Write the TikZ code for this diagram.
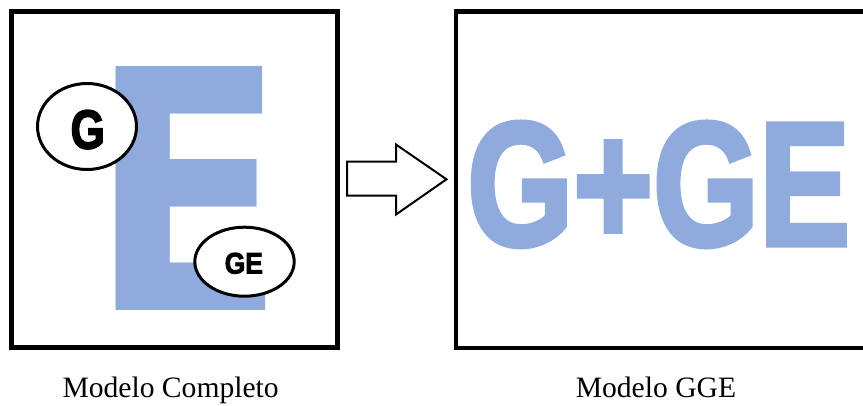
\documentclass[tikz,border=0pt]{standalone}
\usepackage{fontspec}
\setmainfont{Liberation Serif}
\newfontfamily\sansheavy{Liberation Sans}[BoldFeatures={FakeBold=3}]
\newfontfamily\blockfont{DejaVu Sans}
\usetikzlibrary{shapes.geometric}
\definecolor{letterblue}{HTML}{8FAADC}

\begin{document}
\begin{tikzpicture}[x=1pt,y=-1pt,
  frame/.style={draw=black, line width=4.5pt, inner sep=0pt},
  oval/.style={ellipse, draw=black, line width=3pt, fill=white, inner sep=0pt},
  ovaltext/.style={inner sep=0pt, font=\sansheavy\bfseries},
  bigtext/.style={inner sep=0pt, anchor=base west, text=letterblue},
  caption/.style={inner sep=0pt, anchor=base west, font=\fontsize{29.6}{32}\selectfont},
]
\useasboundingbox (0,0) rectangle (863,405);

% the two panels
\node[frame, minimum width=326pt, minimum height=336pt] (full) at (174.5,179.5) {};
\node[frame, minimum width=424pt, minimum height=336.5pt] (gge) at (668,179.75) {};

% large block letter E behind the ovals
\node[bigtext, font=\blockfont\bfseries\fontsize{334.7}{336}\selectfont] (eletter) at (89,310.7)
  {\scalebox{0.863}[1]{E}};

% G and GE ovals
\node[oval, minimum width=99pt, minimum height=86pt] (goval) at (87,126.5) {};
\node[ovaltext, font=\sansheavy\bfseries\fontsize{55}{56}\selectfont] (gtext) at (87.7,129.6)
  {\scalebox{0.8}[1]{G}};
\node[oval, minimum width=99.4pt, minimum height=69pt] (geoval) at (244.5,261.7) {};
\node[ovaltext, font=\sansheavy\bfseries\fontsize{29.7}{30}\selectfont] (getext) at (243.8,263.3)
  {\scalebox{0.89}[1]{GE}};

% block arrow between the panels
\draw[line width=2pt, fill=white, line join=miter]
  (347,161.7) -- (396,161.7) -- (396,144.5) -- (446.5,179.3) -- (396,214.5)
  -- (396,195.7) -- (347,195.7) -- cycle;

% G+GE in the right panel
\node[bigtext, font=\sansheavy\bfseries\fontsize{176}{178}\selectfont] (sum) at (467,245)
  {\scalebox{0.775}[1]{G+GE}};

% captions
\node[caption] (capfull) at (62.3,397.3) {Modelo Completo};
\node[caption] (capgge) at (575.6,397.3) {Modelo GGE};
\end{tikzpicture}
\end{document}
